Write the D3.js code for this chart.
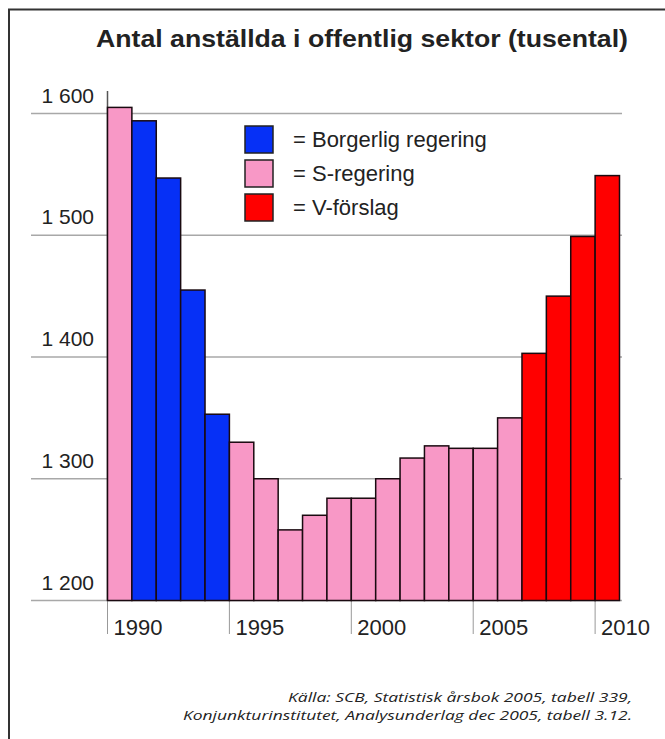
<!doctype html>
<html>
<head>
    <meta charset="UTF-8">
    <title>Antal anställda i offentlig sektor</title>
    <script src="https://d3js.org/d3.v7.min.js"></script>
    <style>
        body { margin: 0; background: #fff; }
        svg text { font-family: "Liberation Sans", Arial, sans-serif; fill: #222; }
    </style>
</head>
<body>
    <script>
        // data (tusental)
        var years = [1990, 1991, 1992, 1993, 1994, 1995, 1996, 1997, 1998, 1999, 2000,
                     2001, 2002, 2003, 2004, 2005, 2006, 2007, 2008, 2009, 2010];
        var values = [1605, 1594, 1547, 1455, 1353, 1330, 1300, 1258, 1270, 1284, 1284,
                      1300, 1317, 1327, 1325, 1325, 1350, 1403, 1450, 1499, 1549];
        // S = S-regering, B = Borgerlig regering, V = V-förslag
        var govt = ["S", "B", "B", "B", "B", "S", "S", "S", "S", "S", "S",
                    "S", "S", "S", "S", "S", "S", "V", "V", "V", "V"];
        var yTicks = [1200, 1300, 1400, 1500, 1600];
        var xTicks = [1990, 1995, 2000, 2005, 2010];
        var legendKeys = ["B", "S", "V"];
        var legendLabels = ["= Borgerlig regering", "= S-regering", "= V-förslag"];

        var w = 665;
        var h = 739;

        var colour = d3.scaleOrdinal()
            .domain(["B", "S", "V"])
            .range(["#0630f6", "#f898c6", "#ff0000"]);

        var x = d3.scaleBand().domain(years).range([107.5, 619.5]).padding(0);
        var y = d3.scaleLinear().domain([1200, 1600]).range([600.5, 113.5]);

        var svg = d3.select("body").append("svg")
            .attr("width", w)
            .attr("height", h);

        // frame (only top and left edges are inside the picture)
        svg.append("rect")
            .attr("x", 9).attr("y", 9.5)
            .attr("width", 720).attr("height", 800)
            .attr("fill", "none")
            .attr("stroke", "#333")
            .attr("stroke-width", 2);

        svg.append("text")
            .attr("x", 96)
            .attr("y", 47)
            .attr("font-size", 24)
            .attr("font-weight", "bold")
            .attr("textLength", 532)
            .attr("lengthAdjust", "spacingAndGlyphs")
            .text("Antal anställda i offentlig sektor (tusental)");

        // gridlines
        svg.append("g").selectAll("line")
            .data(yTicks)
            .enter().append("line")
            .attr("x1", 31)
            .attr("x2", 622)
            .attr("y1", function(d){ return y(d); })
            .attr("y2", function(d){ return y(d); })
            .attr("stroke", "#a8a8a8")
            .attr("stroke-width", 1.5);

        svg.append("g").selectAll("text")
            .data(yTicks)
            .enter().append("text")
            .attr("x", 94)
            .attr("y", function(d){ return y(d) - 11; })
            .attr("text-anchor", "end")
            .attr("font-size", 21)
            .text(function(d){ return d3.format(",")(d).replace(",", " "); });

        // y axis line
        svg.append("line")
            .attr("x1", 107.5).attr("x2", 107.5)
            .attr("y1", 91).attr("y2", y(1200))
            .attr("stroke", "#555")
            .attr("stroke-width", 1.5);

        // year ticks below the bars
        svg.append("g").selectAll("line")
            .data(xTicks)
            .enter().append("line")
            .attr("x1", function(d){ return x(d); })
            .attr("x2", function(d){ return x(d); })
            .attr("y1", y(1200))
            .attr("y2", 634)
            .attr("stroke", "#999")
            .attr("stroke-width", 1);

        svg.append("g").selectAll("text")
            .data(xTicks)
            .enter().append("text")
            .attr("x", function(d){ return x(d) + 6; })
            .attr("y", 635)
            .attr("font-size", 22)
            .text(function(d){ return d; });

        // bars
        svg.append("g").selectAll("rect")
            .data(years)
            .enter().append("rect")
            .attr("x", function(d){ return x(d); })
            .attr("y", function(d, i){ return y(values[i]); })
            .attr("width", x.bandwidth())
            .attr("height", function(d, i){ return y(1200) - y(values[i]); })
            .attr("fill", function(d, i){ return colour(govt[i]); })
            .attr("stroke", "#1a0a10")
            .attr("stroke-width", 1.5);

        // legend
        var legend = svg.append("g").selectAll("g")
            .data(legendKeys)
            .enter().append("g")
            .attr("transform", function(d, i){ return "translate(245," + (126 + i * 34) + ")"; });

        legend.append("rect")
            .attr("width", 28)
            .attr("height", 27)
            .attr("fill", function(d){ return colour(d); })
            .attr("stroke", "#222")
            .attr("stroke-width", 1.5);

        legend.append("text")
            .attr("x", 48)
            .attr("y", 21)
            .attr("font-size", 22)
            .text(function(d, i){ return legendLabels[i]; });

        // source note
        var source = ["Källa: SCB, Statistisk årsbok 2005, tabell 339,",
                      "Konjunkturinstitutet, Analysunderlag dec 2005, tabell 3.12."];
        var sourceLen = [344, 449];
        svg.append("g").selectAll("text")
            .data(source)
            .enter().append("text")
            .attr("x", function(d, i){ return 632 - sourceLen[i]; })
            .attr("y", function(d, i){ return 702 + i * 17.5; })
            .attr("font-size", 12.5)
            .attr("font-style", "italic")
            .attr("textLength", function(d, i){ return sourceLen[i]; })
            .attr("lengthAdjust", "spacingAndGlyphs")
            .style("font-family", "'Open Sans', sans-serif")
            .text(function(d){ return d; });
    </script>
</body>
</html>
